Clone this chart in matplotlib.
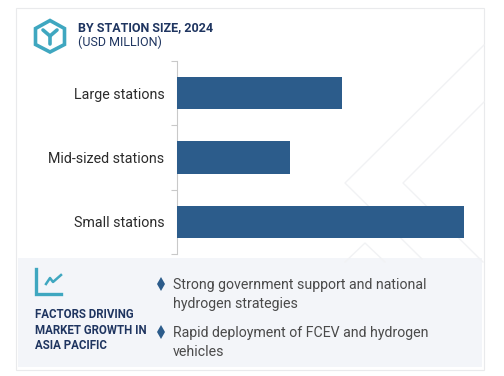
import matplotlib
matplotlib.use("Agg")
import matplotlib.pyplot as plt
from matplotlib.patches import Rectangle, Polygon

plt.rcParams['font.family'] = ['Roboto', 'DejaVu Sans']

W, H = 504, 376

categories = ["Large stations", "Mid-sized stations", "Small stations"]
# no scale on the picture, values read as relative bar lengths
values = [165, 113, 287]

title = "BY STATION SIZE, 2024"
subtitle = "(USD MILLION)"
factors_title = ["FACTORS DRIVING", "MARKET GROWTH IN", "ASIA PACIFIC"]
bullets = [
    ["Strong government support and national", "hydrogen strategies"],
    ["Rapid deployment of FCEV and hydrogen", "vehicles"],
]

NAVY = "#1f3560"
BAR = "#2c5c8b"
TEAL = "#3fa7c0"
GREY = "#4a4a4a"
FAINT = "#f1f2f4"

fig = plt.figure(figsize=(W / 100, H / 100), dpi=100, facecolor="white")

# background layer in pixel coords (y down)
bg = fig.add_axes([0, 0, 1, 1])
bg.set_xlim(0, W)
bg.set_ylim(H, 0)
bg.axis("off")

bg.add_patch(Rectangle((15.5, 7.5), 468.5, 362.5, fc="white", ec="#e9eaec", lw=0.8))

# faint chevrons behind the chart
for xs, ys in [([484, 345, 422], [45, 183, 259]),
               ([484, 403, 483], [102, 183, 262]),
               ([345, 365, 385], [262, 243, 262])]:
    bg.plot(xs, ys, color=FAINT, lw=1)

bg.add_patch(Rectangle((18, 258), 464, 109, fc="#f3f5f9", ec="none"))

# cube icon
hexagon = [(50, 20.5), (64.5, 28.5), (64.5, 44.5), (50, 52), (35.5, 44.5), (35.5, 28.5)]
bg.add_patch(Polygon(hexagon, closed=True, fc="none", ec=TEAL, lw=2.6))
bg.plot([43, 50, 57], [30, 36, 30], color=TEAL, lw=2.6, solid_capstyle="round")
bg.plot([50, 50], [36, 44], color=TEAL, lw=2.6, solid_capstyle="round")

bg.text(78, 27.5, title, fontsize=9, fontweight="bold", color=NAVY, va="center")
bg.text(78, 42.5, subtitle, fontsize=9, color=NAVY, va="center")

# trend icon
bg.plot([36, 36, 61], [269, 294, 294], color=TEAL, lw=2.4, solid_joinstyle="miter")
bg.plot([46, 50, 53, 61], [284, 278, 282, 275], color=TEAL, lw=1.8)

for i, line in enumerate(factors_title):
    bg.text(35, 314.5 + i * 15.5, line, fontsize=8.3, fontweight="bold", color=NAVY, va="center")

bullet_y = [285, 333]
for y, lines in zip(bullet_y, bullets):
    bg.plot(161, y - 1, marker="d", ms=7, mew=0, color=BAR)
    bg.text(173, y, lines[0], fontsize=10.2, color=GREY, va="center")
    bg.text(173, y + 19, lines[1], fontsize=10.2, color=GREY, va="center")

# bar chart
ax = fig.add_axes([177 / W, 1 - 254 / H, 300 / W, 193 / H])
ax.patch.set_alpha(0)
ax.barh(categories, values, height=0.5, color=BAR, zorder=3)
ax.set_xlim(0, 300)
ax.set_ylim(2.5, -0.5)
ax.set_xticks([])
ax.set_yticks([-0.5, 0.5, 1.5, 2.5], minor=False, labels=[""] * 4)
ax.set_yticks([0, 1, 2], minor=True, labels=categories)
ax.tick_params(axis="y", which="major", length=4, width=0.8, color="#c9c9c9")
ax.tick_params(axis="y", which="minor", length=0, pad=9, labelsize=10.3, labelcolor="#2b2b2b")
for s in ["top", "right", "bottom"]:
    ax.spines[s].set_visible(False)
ax.spines["left"].set_color("#c9c9c9")
ax.spines["left"].set_linewidth(0.8)

fig.savefig("out.png", dpi=100)
